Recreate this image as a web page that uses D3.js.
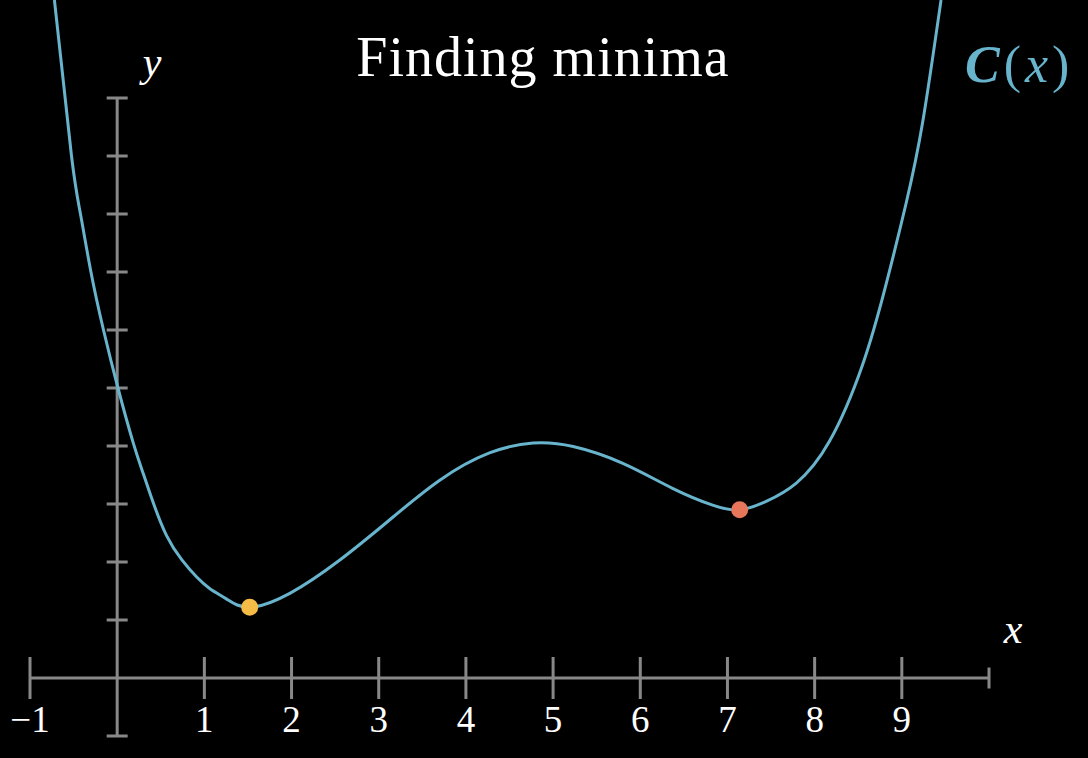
<!DOCTYPE html>
<html>
<head>
<meta charset="utf-8">
<script src="https://cdn.jsdelivr.net/npm/d3@7"></script>
<style>
    html, body { margin: 0; padding: 0; background: #000; }
    svg { display: block; }
    text { font-family: "Liberation Serif", "DejaVu Serif", serif; }
</style>
</head>
<body>
<div id="chart"></div>
<script>
    // valores (x, C(x))
    var curvaX = [-0.72, -0.524, -0.421, -0.301, -0.157, 0.009, 0.185, 0.30, 0.414, 0.568, 0.74, 0.912, 1.064, 1.256, 1.52, 1.98, 2.55, 3.12, 3.70, 4.27, 4.77, 5.23, 5.80, 6.37, 6.83, 7.14, 7.45, 7.79, 8.17, 8.55, 8.82, 9.05, 9.24, 9.45];
    var curvaY = [11.69, 9.0, 8.0, 7.0, 6.0, 5.0, 4.05, 3.52, 3.02, 2.45, 2.04, 1.74, 1.54, 1.36, 1.22, 1.46, 2.03, 2.72, 3.41, 3.88, 4.05, 3.99, 3.70, 3.27, 2.98, 2.90, 3.05, 3.36, 4.08, 5.40, 6.79, 8.19, 9.59, 11.69];
    var minimos = [
        { x: 1.52, y: 1.22, cor: "#f4bb47" },
        { x: 7.14, y: 2.90, cor: "#e8765a" }
    ];
    var ticksX = [-1, 1, 2, 3, 4, 5, 6, 7, 8, 9];
    var labelsX = ["\u22121", "1", "2", "3", "4", "5", "6", "7", "8", "9"];
    var ticksY = [-1, 1, 2, 3, 4, 5, 6, 7, 8, 9, 10];

    var largura = 1088, altura = 758;
    var corEixo = "#888888";
    var corCurva = "#68b4cd";

    var svg = d3.select("#chart")
        .append("svg")
        .attr("width", largura)
        .attr("height", altura);

    svg.append("rect")
        .attr("width", largura)
        .attr("height", altura)
        .attr("fill", "#000");

    var x = d3.scaleLinear().domain([-1, 10]).range([30, 989]);
    var y = d3.scaleLinear().domain([-1, 10]).range([736, 98]);

    var eixos = svg.append("g")
        .attr("stroke", corEixo)
        .attr("stroke-width", 3);

    // eixo x
    eixos.append("line")
        .attr("x1", x(-1)).attr("x2", x(10))
        .attr("y1", y(0)).attr("y2", y(0));
    eixos.selectAll(".tickX")
        .data(ticksX)
        .enter().append("line")
        .attr("class", "tickX")
        .attr("x1", function(d) { return x(d); })
        .attr("x2", function(d) { return x(d); })
        .attr("y1", y(0) - 21)
        .attr("y2", y(0) + 21);
    eixos.append("line")
        .attr("x1", x(10)).attr("x2", x(10))
        .attr("y1", y(0) - 10.5).attr("y2", y(0) + 10.5);

    // eixo y
    eixos.append("line")
        .attr("x1", x(0)).attr("x2", x(0))
        .attr("y1", y(-1)).attr("y2", y(10));
    eixos.selectAll(".tickY")
        .data(ticksY)
        .enter().append("line")
        .attr("class", "tickY")
        .attr("x1", x(0) - 10.5)
        .attr("x2", x(0) + 10.5)
        .attr("y1", function(d) { return y(d); })
        .attr("y2", function(d) { return y(d); });

    svg.selectAll(".labelX")
        .data(ticksX)
        .enter().append("text")
        .attr("class", "labelX")
        .attr("x", function(d) { return x(d); })
        .attr("y", 732)
        .attr("text-anchor", "middle")
        .attr("fill", "#fff")
        .style("font-size", "37px")
        .text(function(d, i) { return labelsX[i]; });

    // rótulos dos eixos
    svg.append("text")
        .attr("x", 152).attr("y", 76)
        .attr("text-anchor", "middle")
        .attr("fill", "#fff")
        .style("font-size", "42px")
        .style("font-style", "italic")
        .text("y");

    svg.append("text")
        .attr("x", 1013).attr("y", 643)
        .attr("text-anchor", "middle")
        .attr("fill", "#fff")
        .style("font-size", "42px")
        .style("font-style", "italic")
        .text("x");

    svg.append("text")
        .attr("x", 543).attr("y", 76)
        .attr("text-anchor", "middle")
        .attr("fill", "#fff")
        .style("font-size", "56px")
        .style("letter-spacing", "1px")
        .text("Finding minima");

    var rotuloC = svg.append("text")
        .attr("x", 965).attr("y", 82)
        .attr("fill", corCurva)
        .style("font-size", "52px")
        .style("letter-spacing", "4px")
        .style("font-style", "italic");
    rotuloC.append("tspan").style("font-weight", "bold").text("C");
    rotuloC.append("tspan").style("font-style", "normal").text("(");
    rotuloC.append("tspan").text("x");
    rotuloC.append("tspan").style("font-style", "normal").text(")");

    // curva
    var pontos = curvaX.map(function(v, i) { return [v, curvaY[i]]; });
    var linha = d3.line()
        .x(function(d) { return x(d[0]); })
        .y(function(d) { return y(d[1]); })
        .curve(d3.curveNatural);

    svg.append("path")
        .datum(pontos)
        .attr("d", linha)
        .attr("fill", "none")
        .attr("stroke", corCurva)
        .attr("stroke-width", 3);

    svg.selectAll(".minimo")
        .data(minimos)
        .enter().append("circle")
        .attr("class", "minimo")
        .attr("cx", function(d) { return x(d.x); })
        .attr("cy", function(d) { return y(d.y); })
        .attr("r", 8.5)
        .attr("fill", function(d) { return d.cor; });
</script>
</body>
</html>
